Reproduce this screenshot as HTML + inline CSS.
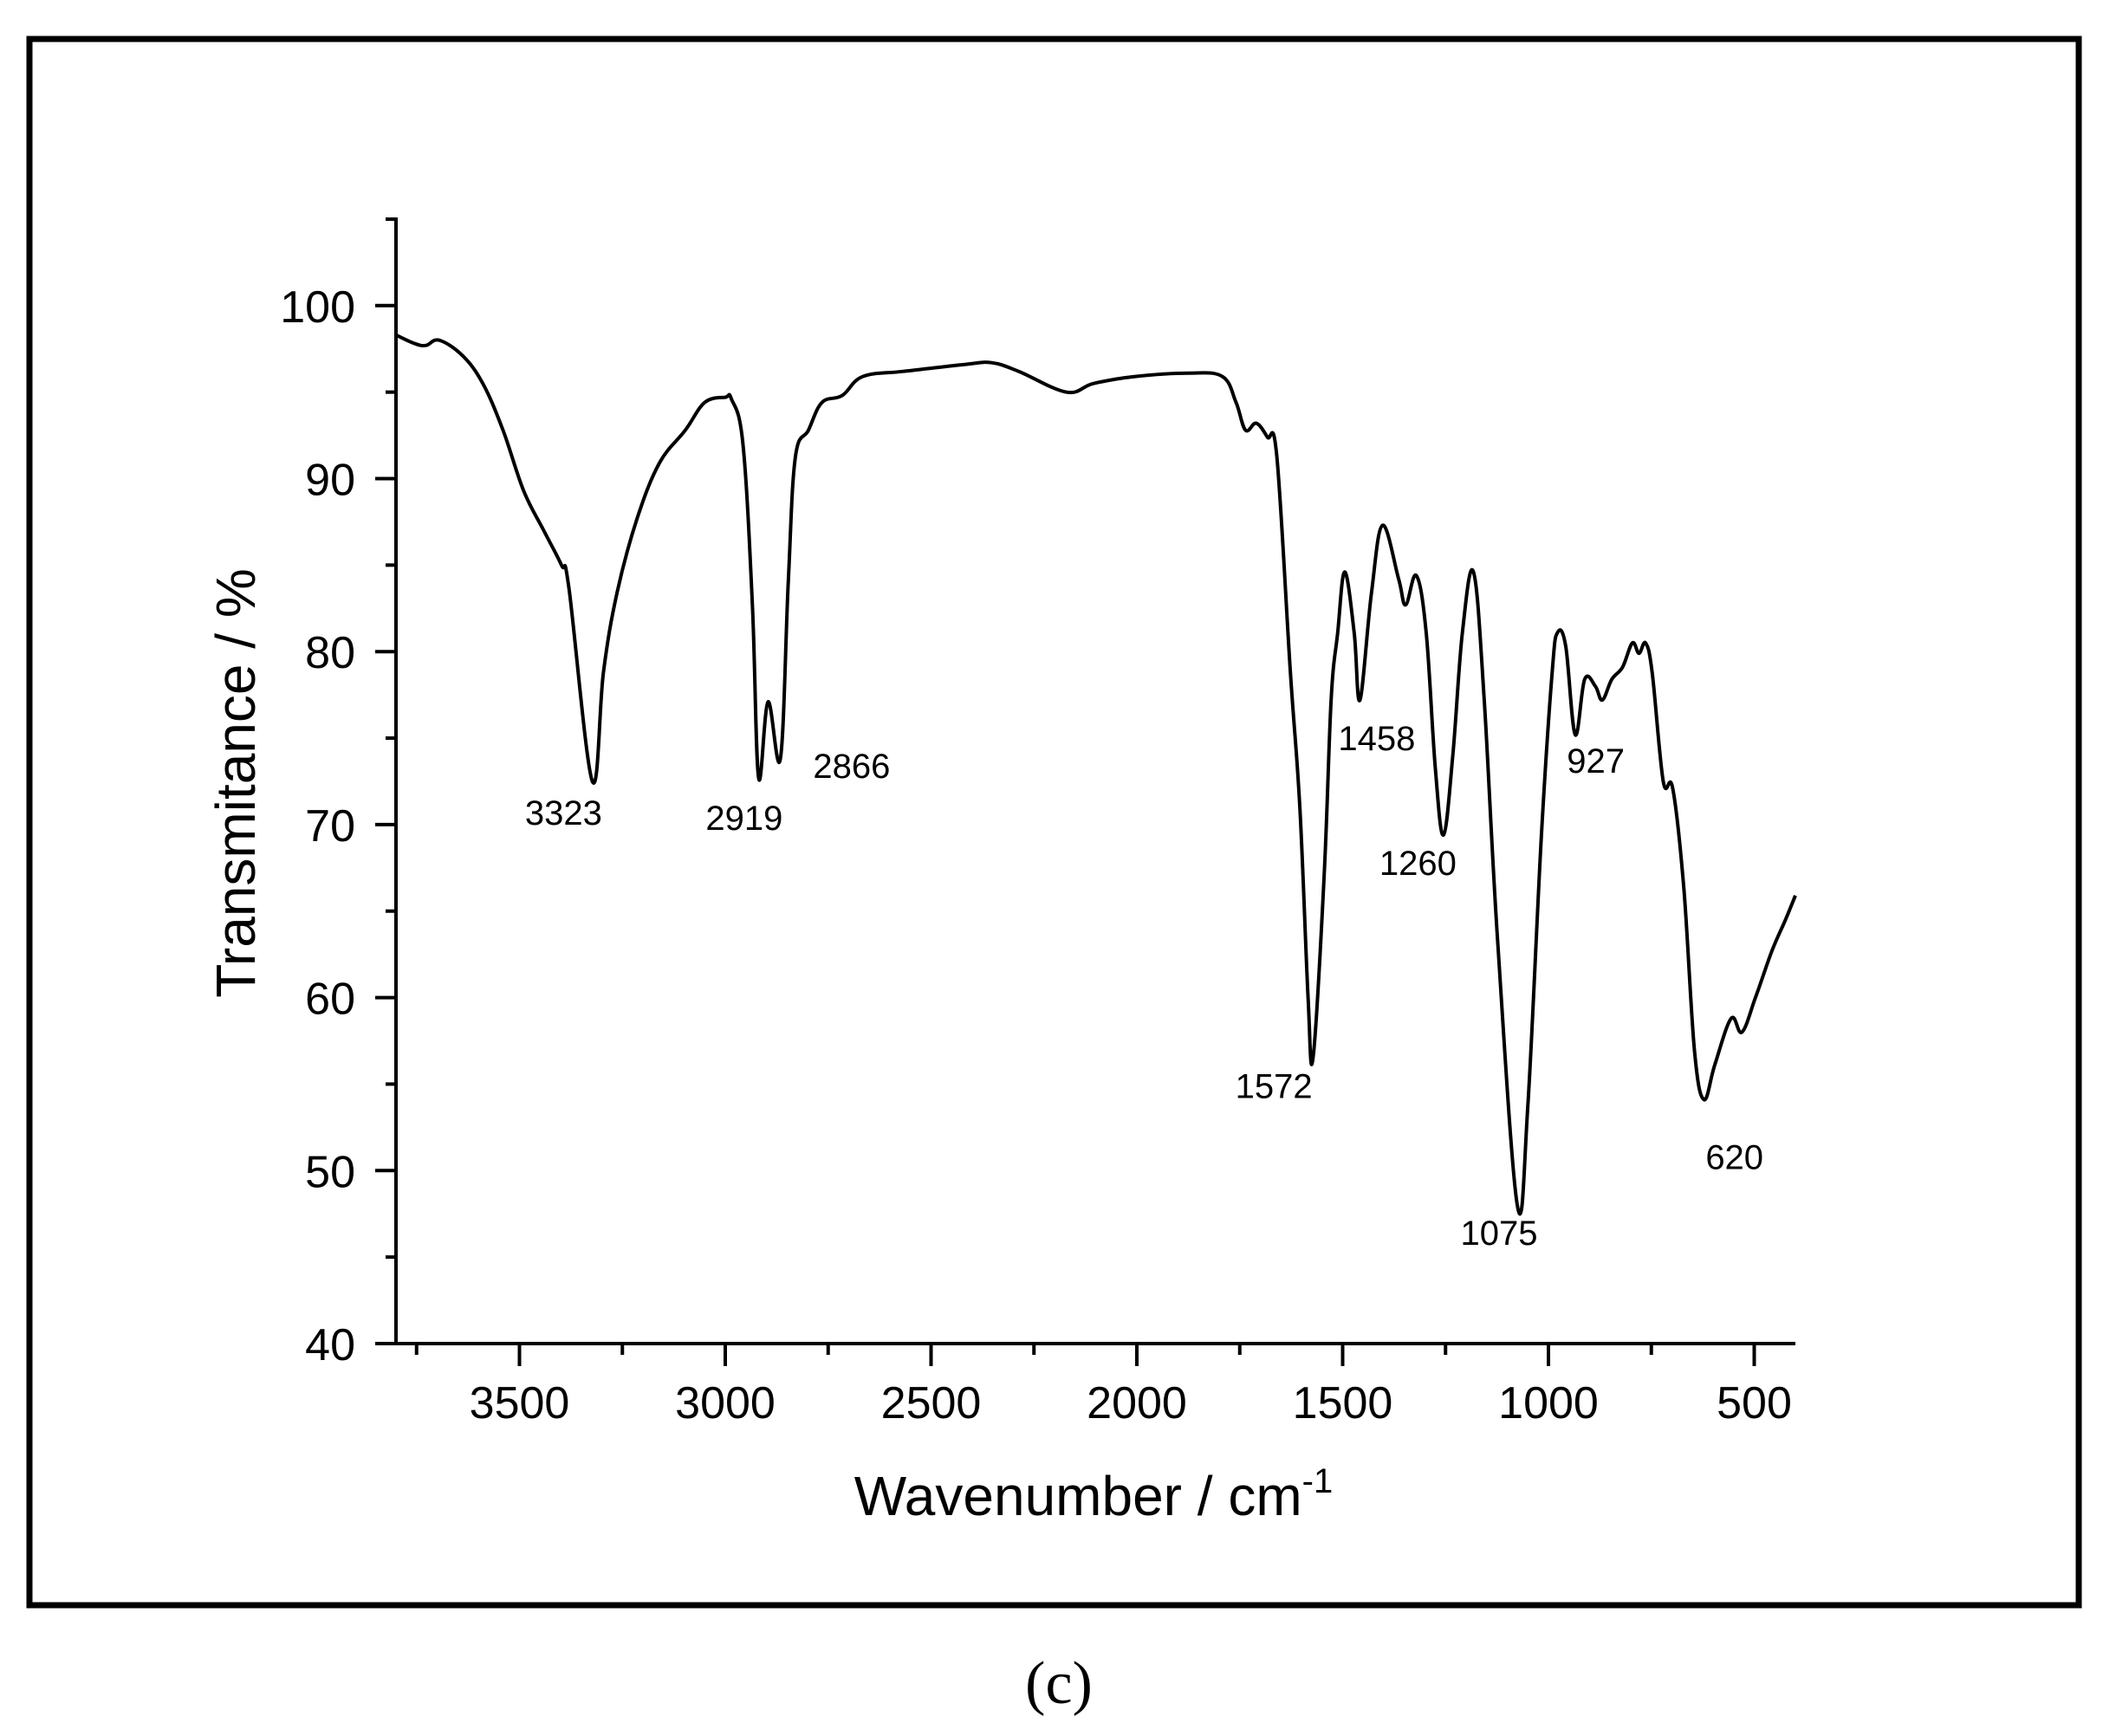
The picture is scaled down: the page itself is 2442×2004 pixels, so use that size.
<!DOCTYPE html>
<html>
<head>
<meta charset="utf-8">
<style>
html,body{margin:0;padding:0;background:#fff;}
svg{display:block;}
text{font-family:"Liberation Sans",Arial,sans-serif;fill:#000;}
</style>
</head>
<body>
<svg id="chart" width="2442" height="2004" viewBox="0 0 2442 2004" xmlns="http://www.w3.org/2000/svg">
  <rect x="34" y="45" width="2365" height="1808" fill="none" stroke="#000" stroke-width="7"/>
  <g id="axes"></g>
  <path id="spectrum" fill="none" stroke="#000" stroke-width="4" stroke-linejoin="round"/>
  <g id="peaks"></g>
  <text transform="translate(294,904) rotate(-90)" text-anchor="middle" font-size="64">Transmitance / %</text>
  <text x="1262" y="1749" text-anchor="middle" font-size="64">Wavenumber / cm<tspan font-size="40" dy="-26">-1</tspan></text>
  <text x="1222" y="1966" text-anchor="middle" font-size="70" style="font-family:'Liberation Serif',serif">(c)</text>
</svg>
<script>
const wavenumbers = [3800,3754,3727,3695,3638,3589,3540,3490,3441,3398,3380,3323,3296,3263,3214,3160,3097,3050,3000,2985,2957,2934,2919,2896,2866,2847,2830,2798,2765,2716,2666,2567,2418,2353,2287,2171,2105,2006,1874,1792,1759,1736,1710,1683,1660,1627,1604,1584,1572,1545,1528,1512,1495,1472,1458,1430,1403,1364,1347,1321,1297,1275,1255,1232,1209,1182,1156,1123,1075,1050,1017,991,978,958,935,912,886,869,846,820,796,780,764,748,721,698,671,645,622,596,556,530,497,457,424,400];
const transmittance = [98.3,97.8,97.7,98.0,97.1,95.5,92.8,89.3,87.0,85.0,83.7,72.5,78.8,83.4,87.7,90.9,92.8,94.4,94.7,94.6,92.0,82.7,72.7,77.1,73.8,84.0,91.2,92.8,94.4,94.8,95.9,96.2,96.6,96.7,96.2,95.0,95.5,95.9,96.1,95.9,94.4,92.8,93.2,92.4,91.3,78.8,71.0,60.0,56.5,67.0,77.2,81.1,84.6,81.1,77.2,83.4,87.3,84.2,82.7,84.4,81.1,73.3,69.4,74.1,81.1,84.6,77.2,63.1,47.9,53.8,69.4,78.8,81.1,80.3,75.2,78.4,78.0,77.2,78.4,79.1,80.5,79.9,80.5,78.8,72.5,72.1,66.3,56.9,54.1,56.1,58.8,58.0,60.0,62.7,64.5,65.9];
const xTicks = [3500,3000,2500,2000,1500,1000,500];
const xMinorTicks = [3750,3250,2750,2250,1750,1250,750];
const yTicks = [40,50,60,70,80,90,100];
const yMinorTicks = [45,55,65,75,85,95,105];
const peakLabels = ["3323","2919","2866","1572","1458","1260","1075","927","620"];
const peakLabelX = [3393,2954,2693,1667,1417,1317,1120,885,548];
const peakLabelY = [70.0,69.7,72.7,54.2,74.3,67.1,45.7,73.0,50.1];

const X0=457, Y0=1551;
function sx(w){ return X0 + (3800 - w) * 0.475; }
function sy(t){ return Y0 - (t - 40) * 19.97; }
const NS='http://www.w3.org/2000/svg';
const axes=document.getElementById('axes');
function mk(tag, attrs, parent){ const e=document.createElementNS(NS,tag); for(const k in attrs) e.setAttribute(k,attrs[k]); parent.appendChild(e); return e; }

let l=mk('line',{x1:X0,y1:sy(105.1),x2:X0,y2:Y0+2,stroke:'#000','stroke-width':4},axes);


l=mk('line',{x1:X0-2,y1:Y0,x2:sx(400),y2:Y0,stroke:'#000','stroke-width':4},axes);



xTicks.forEach(v=>{
  const t=mk('line',{x1:sx(v),y1:Y0,x2:sx(v),y2:Y0+26,stroke:'#000','stroke-width':4},axes);
  
  
  const tx=mk('text',{x:sx(v),y:1637,'text-anchor':'middle','font-size':52},axes);
  tx.textContent=v;
  
  
});
xMinorTicks.forEach(v=>{
  const t=mk('line',{x1:sx(v),y1:Y0,x2:sx(v),y2:Y0+13,stroke:'#000','stroke-width':4},axes);
  
  
});
yTicks.forEach(v=>{
  const t=mk('line',{x1:X0-24,y1:sy(v),x2:X0,y2:sy(v),stroke:'#000','stroke-width':4},axes);
  
  
  const tx=mk('text',{x:410,y:sy(v)+19,'text-anchor':'end','font-size':52},axes);
  tx.textContent=v;
  
  
});
yMinorTicks.forEach(v=>{
  const t=mk('line',{x1:X0-12,y1:sy(v),x2:X0,y2:sy(v),stroke:'#000','stroke-width':4},axes);
  
  
});

// smooth Catmull-Rom path through data points
const pts = wavenumbers.map((w,i)=>[sx(w), sy(transmittance[i])]);
let d = 'M' + pts[0][0].toFixed(1) + ',' + pts[0][1].toFixed(1);
for(let i=0;i<pts.length-1;i++){
  const p0=pts[Math.max(0,i-1)], p1=pts[i], p2=pts[i+1], p3=pts[Math.min(pts.length-1,i+2)];
  const k=0.18;
  const c1x=p1[0]+(p2[0]-p0[0])*k, c1y=p1[1]+(p2[1]-p0[1])*k;
  const c2x=p2[0]-(p3[0]-p1[0])*k, c2y=p2[1]-(p3[1]-p1[1])*k;
  d += ' C' + c1x.toFixed(1)+','+c1y.toFixed(1)+' '+c2x.toFixed(1)+','+c2y.toFixed(1)+' '+p2[0].toFixed(1)+','+p2[1].toFixed(1);
}
document.getElementById('spectrum').setAttribute('d', d);

const peaks=document.getElementById('peaks');
peakLabels.forEach((s,i)=>{
  const tx=mk('text',{x:sx(peakLabelX[i]),y:sy(peakLabelY[i]),'text-anchor':'middle','font-size':40},peaks);
  tx.textContent=s;
  
  
});
</script>
</body>
</html>
